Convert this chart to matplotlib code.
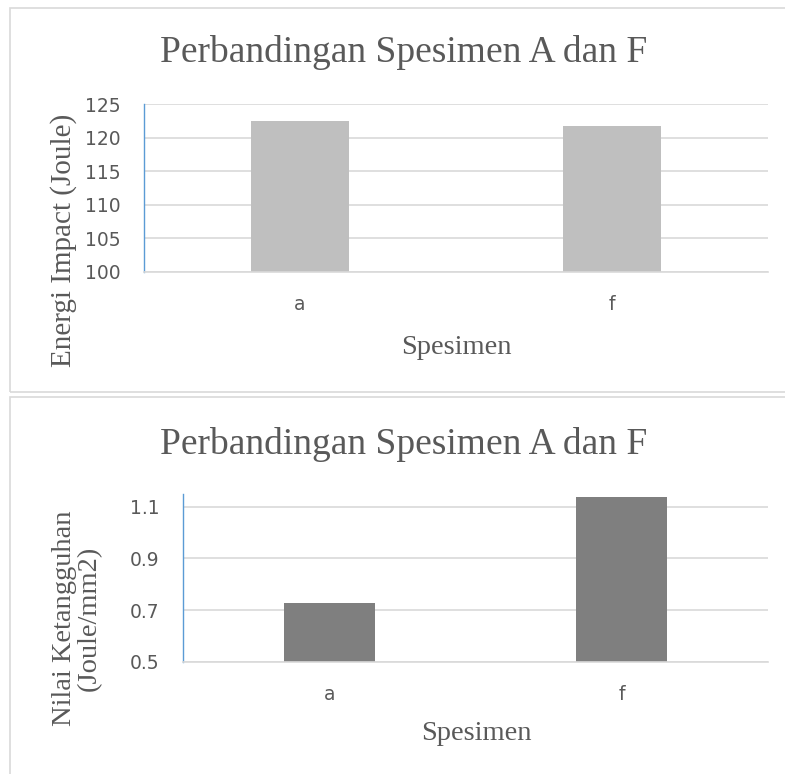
import matplotlib.pyplot as plt
from matplotlib.patches import Rectangle

categories = ['a', 'f']
energi_impact = [122.5, 121.7]
ketangguhan = [0.728, 1.136]

energi_ticks = [100, 105, 110, 115, 120, 125]
ketangguhan_ticks = [0.5, 0.7, 0.9, 1.1]

W, H = 785, 774
fig = plt.figure(figsize=(W / 100, H / 100), dpi=100)

serif = 'Liberation Serif'
txt_gray = '#595959'
grid_gray = '#d9d9d9'


def fx(px):
    return px / W


def fy(py):
    return 1 - py / H


# chart frames
fig.patches.append(Rectangle((fx(10), fy(391.7)), 1.0, fy(8) - fy(391.7),
                             transform=fig.transFigure, fill=False,
                             edgecolor=grid_gray, lw=1.2))
fig.patches.append(Rectangle((fx(10), -0.1), 1.0, fy(397) + 0.1,
                             transform=fig.transFigure, fill=False,
                             edgecolor=grid_gray, lw=1.2))


def style_axis(ax, ticks, ylim, fmt):
    x = range(len(categories))
    ax.set_xlim(-0.5, len(categories) - 0.5)
    ax.set_ylim(*ylim)
    ax.set_yticks(ticks)
    ax.set_yticklabels([fmt(t) for t in ticks])
    ax.set_xticks(list(x))
    ax.set_xticklabels(categories)
    ax.yaxis.grid(True, color=grid_gray, lw=1.2)
    ax.set_axisbelow(True)
    for s in ['top', 'right']:
        ax.spines[s].set_visible(False)
    ax.spines['left'].set_color('#5b9bd5')
    ax.spines['left'].set_linewidth(1.0)
    ax.spines['bottom'].set_color(grid_gray)
    ax.spines['bottom'].set_linewidth(1.2)
    ax.tick_params(length=0, labelsize=13.5, labelcolor=txt_gray)
    ax.tick_params(axis='y', pad=17)
    ax.tick_params(axis='x', pad=17)


# top chart
ax1 = fig.add_axes([fx(144), fy(271.7), fx(767.7) - fx(144), fy(104) - fy(271.7)])
ax1.bar(range(len(categories)), energi_impact, width=0.314, bottom=0,
        color='#bfbfbf')
style_axis(ax1, energi_ticks, (100, 125), lambda t: '%d' % t)
fig.text(fx(404), fy(52), 'Perbandingan Spesimen A dan F', family=serif,
         fontsize=27, color=txt_gray, ha='center', va='center')
fig.text(fx(456), fy(347), 'Spesimen', family=serif, fontsize=20.5,
         color=txt_gray, ha='center', va='center')
fig.text(fx(64), fy(240), 'Energi Impact (Joule)', family=serif, fontsize=21,
         color=txt_gray, ha='center', va='center', rotation=90)

# bottom chart
ax2 = fig.add_axes([fx(183.3), fy(661.7), fx(767.7) - fx(183.3), fy(494) - fy(661.7)])
ax2.bar(range(len(categories)), ketangguhan, width=0.314, bottom=0,
        color='#7f7f7f')
style_axis(ax2, ketangguhan_ticks, (0.5, 1.149), lambda t: '%.1f' % t)
fig.text(fx(404), fy(444), 'Perbandingan Spesimen A dan F', family=serif,
         fontsize=27, color=txt_gray, ha='center', va='center')
fig.text(fx(476), fy(733), 'Spesimen', family=serif, fontsize=20.5,
         color=txt_gray, ha='center', va='center')
fig.text(fx(77), fy(618), 'Nilai Ketangguhan\n(Joule/mm2)', family=serif,
         fontsize=20.5, color=txt_gray, ha='center', va='center', rotation=90,
         multialignment='center', linespacing=0.95)

fig.savefig('out.png', dpi=100)
